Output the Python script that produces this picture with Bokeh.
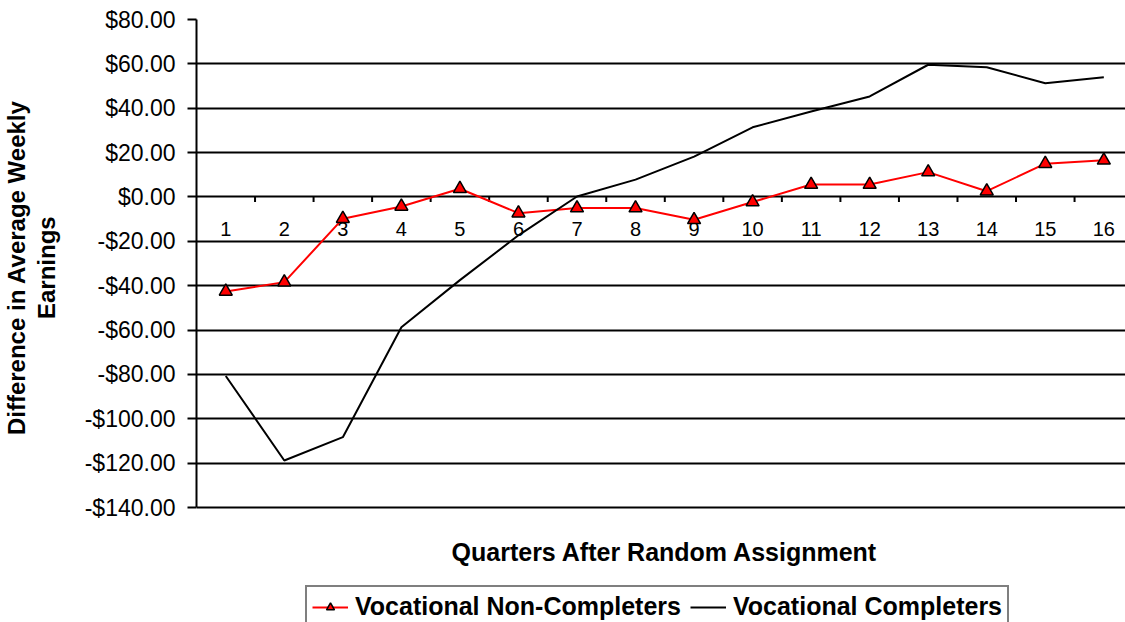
from bokeh.plotting import figure
from bokeh.models import Legend, LegendItem, Label, FixedTicker, Range1d
from bokeh.embed import file_html
from bokeh.resources import INLINE
from bokeh.core.properties import value

# ---- data ----
quarters = list(range(1, 17))
quarter_labels = [str(q) for q in quarters]
non_completers = [-42.6, -38.4, -9.8, -4.3, 3.7, -7.3, -5.0, -5.0,
                  -10.3, -2.3, 5.6, 5.6, 11.2, 2.6, 15.0, 16.5]
completers = [-80.7, -118.8, -108.3, -58.7, -37.5, -17.3, 0.2, 7.8,
              18.2, 31.4, 38.5, 45.3, 59.6, 58.5, 51.3, 54.0]
y_ticks = [-140, -120, -100, -80, -60, -40, -20, 0, 20, 40, 60, 80]
y_tick_labels = ["-$140.00", "-$120.00", "-$100.00", "-$80.00", "-$60.00",
                 "-$40.00", "-$20.00", "$0.00", "$20.00", "$40.00",
                 "$60.00", "$80.00"]
series_names = ["Vocational Non-Completers", "Vocational Completers"]
x_title = "Quarters After Random Assignment"
y_title_lines = ["Difference in Average Weekly", "Earnings"]

FONT = "Liberation Sans"

# ---- layout (pixels) ----
W, H = 1125, 622
LEFT, TOP = 195, 19
PLOT_H = 488            # pixel height of the -140..80 band
CAT_W = 58.6            # pixel width of one category
y_lo, y_hi = min(y_ticks), max(y_ticks)
px_per_unit = PLOT_H / (y_hi - y_lo)
frame_h = H - TOP
y_start = y_hi - frame_h / px_per_unit
x_end = 0.5 + (W - LEFT) / CAT_W

# the axis title is centred on the whole frame; a run of no-break spaces
# in front of each line lifts it to the middle of the -140..80 band
pad = "\u00a0" * 16
y_title = "\n".join(pad + s for s in y_title_lines)

p = figure(width=W, height=H, output_backend="svg", toolbar_location=None,
           x_range=Range1d(0.5, x_end), y_range=Range1d(y_start, y_hi),
           x_axis_location=None,
           min_border_left=LEFT, min_border_right=0,
           min_border_top=TOP, min_border_bottom=0)
p.outline_line_color = None
p.background_fill_color = "white"
p.border_fill_color = "white"

p.xgrid.visible = False
p.ygrid.ticker = FixedTicker(ticks=y_ticks)
p.ygrid.grid_line_color = "black"
p.ygrid.grid_line_width = 2

ax = p.yaxis[0]
ax.bounds = (y_lo, y_hi)
ax.ticker = FixedTicker(ticks=y_ticks)
ax.major_label_overrides = dict(zip(y_ticks, y_tick_labels))
ax.major_label_text_font = FONT
ax.major_label_text_font_size = "23px"
ax.major_label_text_color = "black"
ax.major_label_standoff = 12
ax.major_tick_out = 9
ax.major_tick_in = 0
ax.minor_tick_out = 0
ax.minor_tick_in = 0
ax.major_tick_line_width = 2
ax.major_tick_line_color = "black"
ax.axis_line_width = 2
ax.axis_line_color = "black"
ax.axis_label = y_title
ax.axis_label_text_font = FONT
ax.axis_label_text_font_size = "24px"
ax.axis_label_text_font_style = "bold"
ax.axis_label_text_color = "black"
ax.axis_label_text_line_height = 1.1
ax.axis_label_standoff = 22

# category tick marks below the zero line (between categories)
tick_x = [q + 0.5 for q in quarters[:-1]]
tick_len = 5 / px_per_unit
p.segment(x0=tick_x, y0=[0] * len(tick_x), x1=tick_x, y1=[-tick_len] * len(tick_x),
          line_color="black", line_width=2)

# category labels under the zero line
p.text(x=quarters, y=[0] * len(quarters), text=quarter_labels,
       text_font=value(FONT), text_font_size="20px", text_color="black",
       text_align="center", text_baseline="middle", y_offset=32)

r_red_line = p.line(quarters, non_completers, line_color="#FF0000", line_width=2)
r_red_pts = p.scatter(quarters, non_completers, marker="triangle", size=13,
                      fill_color="#FF0000", line_color="black", line_width=1.5)
r_black = p.line(quarters, completers, line_color="black", line_width=2)

# x-axis title (screen y measured up from the canvas bottom)
p.add_layout(Label(x=8.5, y=H - 551, x_units="data", y_units="screen", text=x_title,
                   text_font=FONT, text_font_size="25px", text_font_style="bold",
                   text_color="black", text_align="center", text_baseline="middle"))

legend = Legend(items=[LegendItem(label=series_names[0], renderers=[r_red_line, r_red_pts]),
                       LegendItem(label=series_names[1], renderers=[r_black])],
                orientation="horizontal", location=(109, -6),
                label_text_font=FONT, label_text_font_size="25px",
                label_text_font_style="bold", label_text_color="black",
                glyph_width=36, glyph_height=20, label_standoff=7, spacing=9,
                padding=5, margin=0,
                border_line_color="black", border_line_width=2,
                background_fill_color="white", background_fill_alpha=1.0)
p.add_layout(legend, "center")

open("out.html", "w").write(file_html(p, INLINE))
